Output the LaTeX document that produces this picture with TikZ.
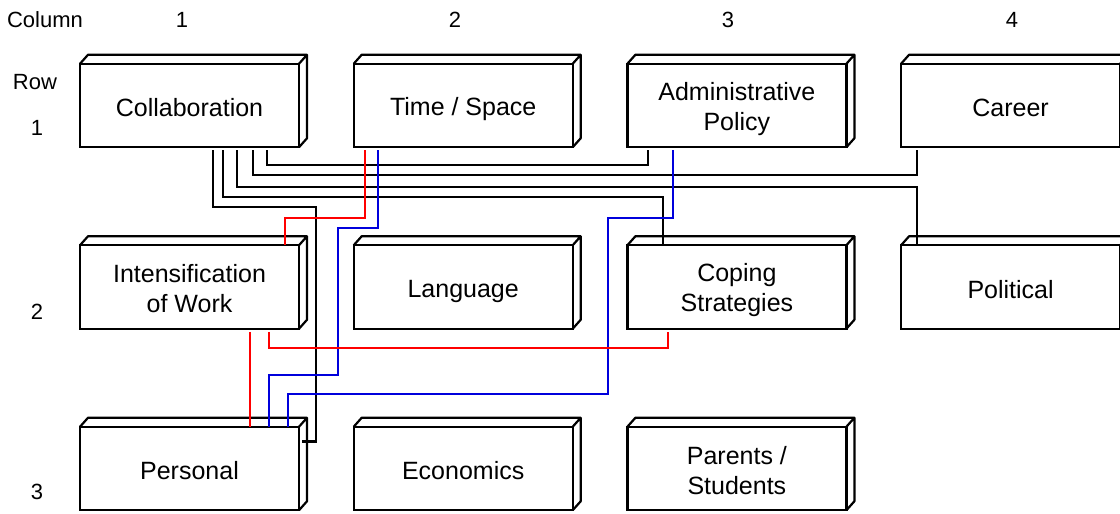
\documentclass[tikz,border=0pt]{standalone}
\usepackage{fontspec}
\setmainfont{Liberation Sans}
\usetikzlibrary{positioning}
\definecolor{linkRed}{RGB}{255,0,0}
\definecolor{linkBlue}{RGB}{0,0,220}

\begin{document}
\begin{tikzpicture}[
    x=1pt, y=1pt,
    node distance=98pt and 54.7pt,
    box/.style={rectangle, draw, line width=2.2pt, fill=white, outer sep=0pt, minimum width=219pt, minimum height=83.5pt, align=center, font=\fontsize{25}{30}\selectfont, execute at begin node={\rule[-4pt]{0pt}{30pt}}},
    twoline/.style={execute at begin node={\rule[-4pt]{0pt}{59pt}}},
    boxside/.style={line width=2.2pt, line join=round},
    heading/.style={font=\fontsize{22}{25}\selectfont},
    link/.style={line width=2.2pt},
    redlink/.style={link, draw=linkRed},
    bluelink/.style={link, draw=linkBlue}
]
\useasboundingbox (0,0) rectangle (1120,-514);

% Headings
\node[heading] (colhead) at (45,-20) {Column};
\foreach \c/\x in {1/182,2/455,3/728,4/1012}
    \node[heading] (col\c) at (\x,-20) {\c};
\node[heading] (rowhead) at (35,-82) {Row};
\foreach \r/\y in {1/128,2/312,3/492}
    \node[heading] (row\r) at (37,-\y) {\r};

% Boxes
\node[box] (collab) at (189.5,-105.5) {Collaboration};
\node[box, right=of collab] (time) {Time / Space};
\node[box, twoline, right=of time] (admin) {Administrative\\Policy};
\node[box, right=of admin] (career) {Career};

\node[box, twoline, below=of collab] (intens) {Intensification\\of Work};
\node[box, right=of intens] (lang) {Language};
\node[box, twoline, right=of lang] (coping) {Coping\\Strategies};
\node[box, right=of coping] (polit) {Political};

\node[box, below=of intens] (personal) {Personal};
\node[box, right=of personal] (econ) {Economics};
\node[box, twoline, right=of econ] (parents) {Parents /\\Students};

\foreach \b in {collab,time,admin,career,intens,lang,coping,polit,personal,econ,parents}
    \draw[boxside] (\b.north west) -- ++(8,9) -| ([shift={(8,9)}]\b.south east) -- (\b.south east)
        (\b.north east) -- ++(8,9);

% Links from Collaboration
\draw[link] ([xshift=77.5pt,yshift=-3pt]collab.south) -- ++(0,-15) -| ([xshift=-88.9pt,yshift=-3pt]admin.south);
\draw[link] ([xshift=63.5pt,yshift=-3pt]collab.south) -- ++(0,-25) -| ([xshift=-93.6pt,yshift=-3pt]career.south);
\draw[link] ([xshift=47.5pt,yshift=-3pt]collab.south) -- ++(0,-37) -| ([xshift=-93.6pt]polit.north);
\draw[link] ([xshift=33.5pt,yshift=-3pt]collab.south) -- ++(0,-47) -| ([xshift=-73.9pt]coping.north);
\draw[link] ([xshift=23.5pt,yshift=-3pt]collab.south) -- ++(0,-57) -- ++(103,0) |- ([xshift=3pt,yshift=27pt]personal.east);

% Red and blue links
\draw[redlink] ([xshift=-98pt,yshift=-3pt]time.south) -- ++(0,-68) -| ([xshift=95.5pt]intens.north);
\draw[bluelink] ([xshift=-85pt,yshift=-3pt]time.south) -- ++(0,-78) -- ++(-40,0) -- ++(0,-147) -| ([xshift=79.5pt]personal.north);
\draw[bluelink] ([xshift=-64pt,yshift=-3pt]admin.south) -- ++(0,-68) -- ++(-65,0) -- ++(0,-176) -| ([xshift=98.5pt]personal.north);
\draw[redlink] ([xshift=60.5pt,yshift=-3pt]intens.south) -- ([xshift=60.5pt]personal.north);
\draw[redlink] ([xshift=79.5pt,yshift=-3pt]intens.south) -- ++(0,-16) -| ([xshift=-69pt,yshift=-3pt]coping.south);

\end{tikzpicture}
\end{document}
